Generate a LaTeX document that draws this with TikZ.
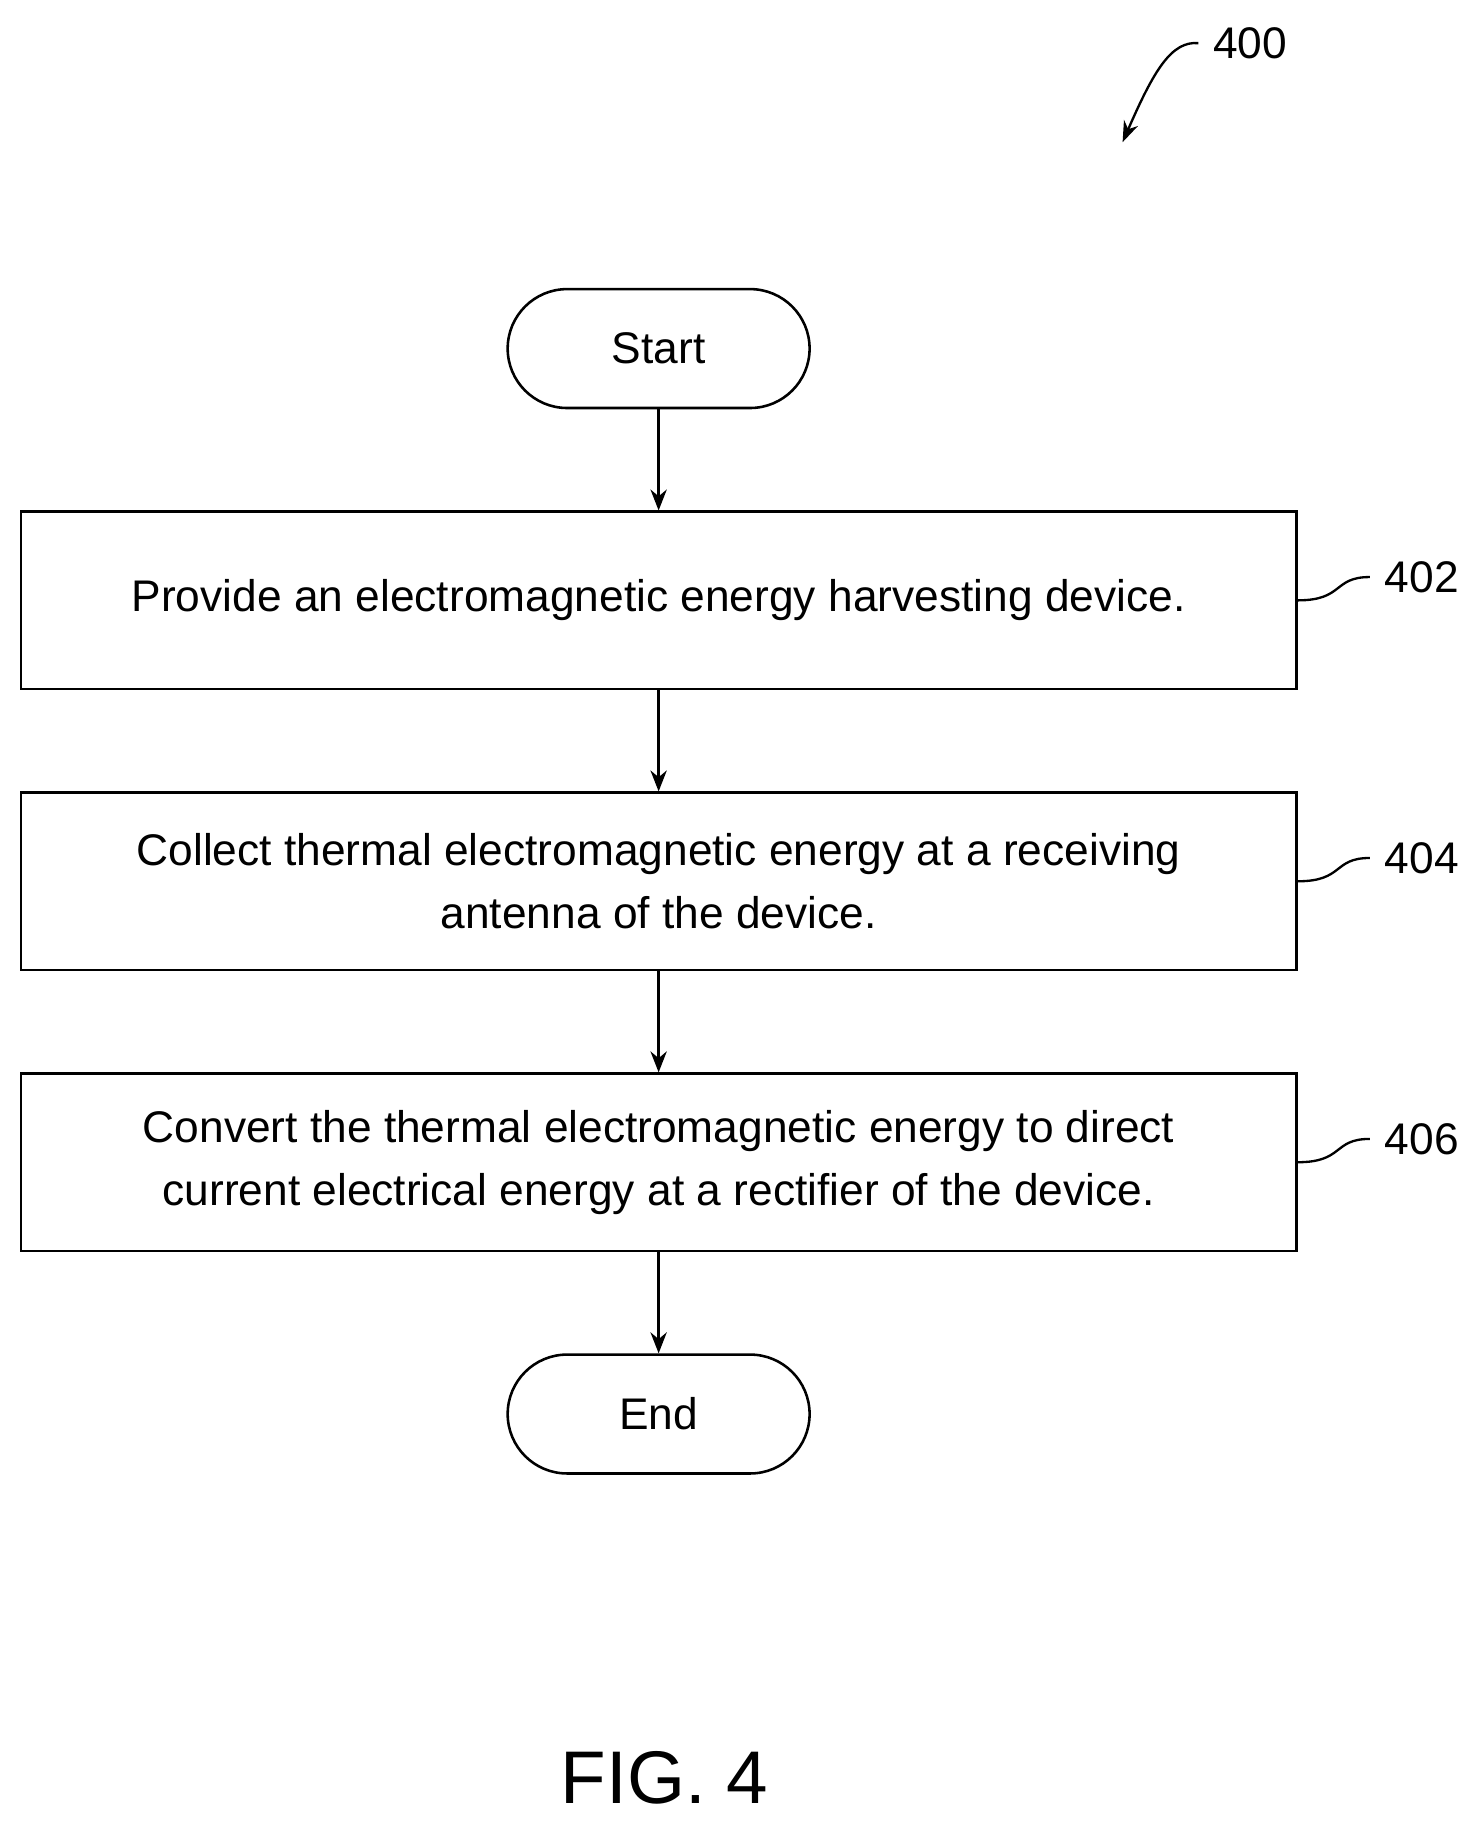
\documentclass[tikz,border=0pt]{standalone}
\usepackage{fontspec}
\setmainfont{Liberation Sans}
\usetikzlibrary{arrows.meta}
\begin{document}
\begin{tikzpicture}[x=1pt,y=-1pt,
 box/.style={draw,line width=2.2pt,minimum width=1094pt,minimum height=152pt,align=center,inner sep=0pt},
 term/.style={draw,line width=2.2pt,rounded corners=51pt,minimum width=259pt,minimum height=102pt},
 arr/.style={line width=2pt,-{Stealth[length=18pt,width=14pt]}},
 lbl/.style={font=\fontsize{38}{40}\selectfont},
 lead/.style={line width=2pt}]
\useasboundingbox (0,0) rectangle (1266,1575);
\fontsize{38}{54}\selectfont
\node[term] (s) at (565,299) {Start};
\node[box] (b1) at (565,515) {Provide an electromagnetic energy harvesting device.};
\node[box] (b2) at (565,756) {Collect thermal electromagnetic energy at a receiving\\antenna of the device.};
\node[box] (b3) at (565,997) {Convert the thermal electromagnetic energy to direct\\current electrical energy at a rectifier of the device.};
\node[term] (e) at (565,1213) {End};
\draw[arr] (s) -- (b1);
\draw[arr] (b1) -- (b2);
\draw[arr] (b2) -- (b3);
\draw[arr] (b3) -- (e);
\foreach \b/\t [count=\i] in {b1/402,b2/404,b3/406}{
 \node[lbl,anchor=west] (l\i) at ([xshift=62pt,yshift=20pt]\b.east) {\t};
 \draw[lead] (\b.east) .. controls ([xshift=40pt]\b.east) and ([xshift=30pt,yshift=20pt]\b.east) .. (l\i.west);
}
\node[lbl,anchor=west] (l0) at (1028,37) {400};
\coordinate (t0) at (963,122);
\draw[line width=2pt,-{Stealth[length=18pt,width=13pt]}] (l0.west) .. controls (1005,35) and (990,60) .. (t0);
\node[font=\fontsize{64}{70}\selectfont] (fig) at (570,1525) {FIG. 4};
\end{tikzpicture}
\end{document}
